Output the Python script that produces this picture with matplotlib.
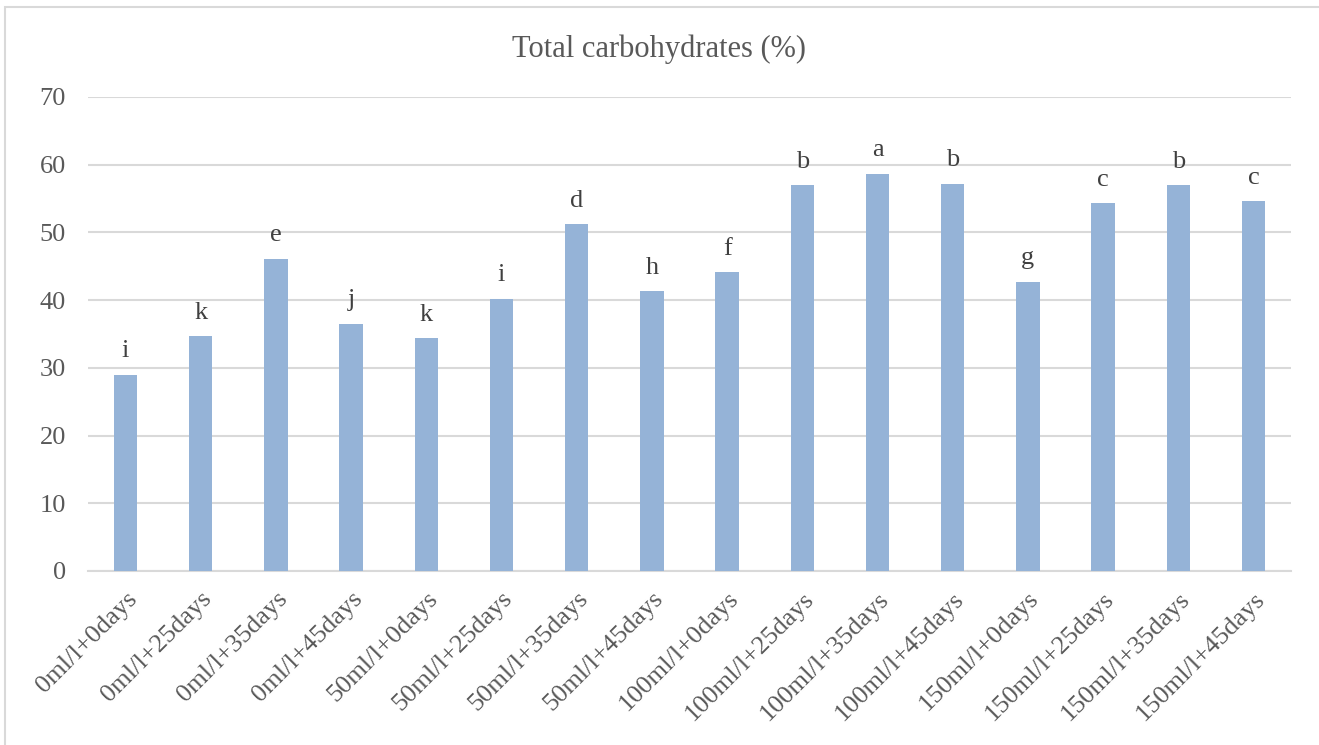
import numpy as np
import matplotlib.pyplot as plt
from matplotlib.patches import Rectangle

categories = ['0ml/l+0days', '0ml/l+25days', '0ml/l+35days', '0ml/l+45days',
              '50ml/l+0days', '50ml/l+25days', '50ml/l+35days', '50ml/l+45days',
              '100ml/l+0days', '100ml/l+25days', '100ml/l+35days', '100ml/l+45days',
              '150ml/l+0days', '150ml/l+25days', '150ml/l+35days', '150ml/l+45days']
values = [29.0, 34.7, 46.1, 36.5, 34.4, 40.2, 51.2, 41.3,
          44.1, 57.0, 58.7, 57.2, 42.7, 54.3, 57.0, 54.6]
letters = ['i', 'k', 'e', 'j', 'k', 'i', 'd', 'h',
           'f', 'b', 'a', 'b', 'g', 'c', 'b', 'c']
y_ticks = [0, 10, 20, 30, 40, 50, 60, 70]

plt.rcParams['font.family'] = ['Liberation Serif', 'DejaVu Serif']
text_col = '#595959'
grid_col = '#D9D9D9'

fig = plt.figure(figsize=(13.19, 7.45), dpi=100)
ax = fig.add_axes([0.0667, 0.2336, 0.9121, 0.6362])

x = np.arange(len(categories))
ax.bar(x, values, width=0.31, color='#95B3D7', zorder=3)

for xi, v, lab in zip(x, values, letters):
    ax.annotate(lab, (xi, v), xytext=(0, 9), textcoords='offset points',
                ha='center', va='bottom', fontsize=19, color='#404040')

ax.set_xlim(-0.5, len(categories) - 0.5)
ax.set_ylim(0, 70)
ax.set_yticks(y_ticks)
ax.set_xticks(x)
ax.set_xticklabels(categories, rotation=45, ha='right', rotation_mode='anchor')
ax.tick_params(axis='both', length=0, labelsize=19, colors=text_col)
ax.tick_params(axis='y', pad=16)
ax.tick_params(axis='x', pad=12)
ax.grid(axis='y', color=grid_col, linewidth=1.5, zorder=0)
for s in ['top', 'right', 'left']:
    ax.spines[s].set_visible(False)
ax.spines['bottom'].set_color(grid_col)
ax.spines['bottom'].set_linewidth(1.5)

fig.text(0.5, 0.934, 'Total carbohydrates (%)', ha='center', va='center',
         fontsize=22, color=text_col)

fig.patches.append(Rectangle((0.004, -0.05), 1.2, 1.04, transform=fig.transFigure,
                             fill=False, edgecolor=grid_col, linewidth=1.5))

fig.savefig('out.png', dpi=100)
